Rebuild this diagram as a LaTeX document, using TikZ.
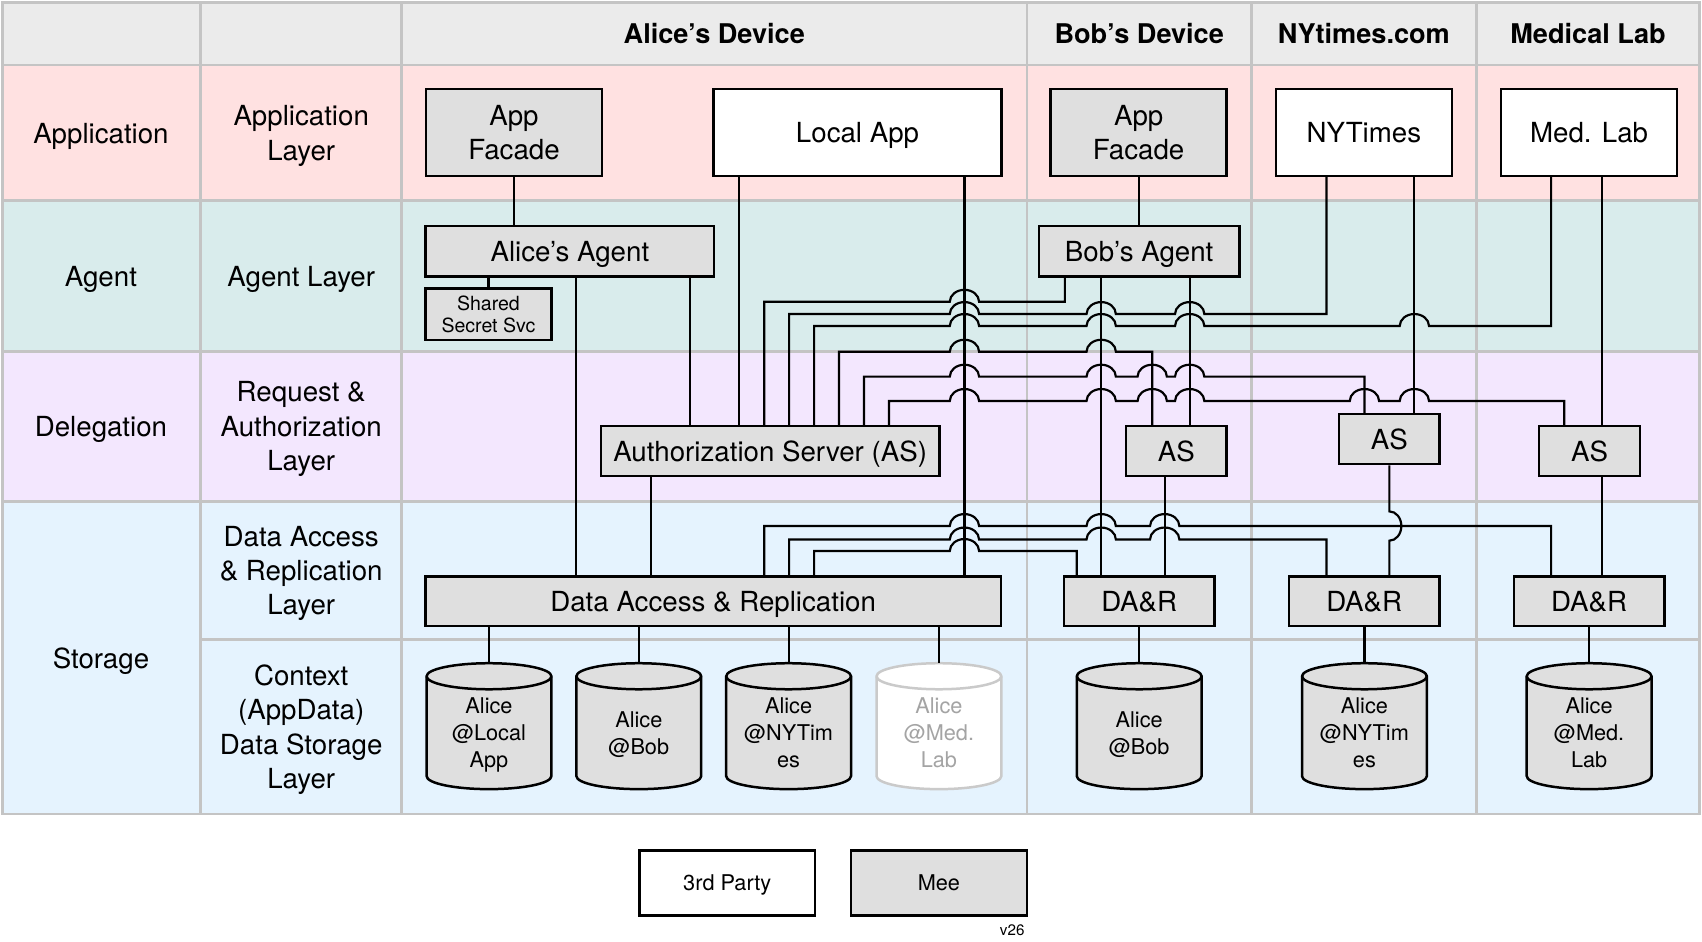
\documentclass[tikz,border=0pt]{standalone}
\usepackage{fontspec}
\setmainfont{TeX Gyre Heros}
\definecolor{hdr}{HTML}{EBEBEB}
\definecolor{rapp}{HTML}{FFE1E1}
\definecolor{ragt}{HTML}{D9ECEC}
\definecolor{rdel}{HTML}{F3E7FE}
\definecolor{rsto}{HTML}{E5F3FE}
\definecolor{gridc}{HTML}{C4C4C4}
\definecolor{boxgray}{HTML}{DFDFDF}
\definecolor{faded}{HTML}{CACACA}
\definecolor{fadedtext}{HTML}{A4A4A4}
\newcommand\hop[2]{-- ({#1-13.5},#2) arc[start angle=180,end angle=0,x radius=13.5pt,y radius=11pt]}
\newcommand\vhop[2]{-- (#1,{#2-13.5}) arc[start angle=90,end angle=-90,x radius=11pt,y radius=13.5pt]}
\newcommand\cylshape[5]{%
  \path[#3] ({#2-57.5},623) -- ({#2-57.5},715) arc[start angle=180,end angle=360,x radius=57.5pt,y radius=12pt] -- ({#2+57.5},623) arc[start angle=0,end angle=180,x radius=57.5pt,y radius=12pt] -- cycle;
  \path[#3,fill=none] ({#2-57.5},623) arc[start angle=180,end angle=360,x radius=57.5pt,y radius=12pt];
  \node[cyltext,#5] (#1) at (#2,675) {#4};
  \coordinate (#1t) at (#2,611);
}
\tikzset{
  box/.style={draw=black, line width=2.3pt, fill=boxgray, align=center, inner sep=0pt, text depth=0pt,
    font=\fontsize{25.5}{31.5}\selectfont},
  wbox/.style={box, fill=white},
  lbl/.style={align=center, inner sep=0pt, text depth=0pt, font=\fontsize{25.5}{31.5}\selectfont},
  hd/.style={inner sep=0pt, font=\fontsize{25}{30}\selectfont\bfseries},
  wire/.style={line width=2pt, line join=miter},
  gridline/.style={draw=gridc, line width=2.5pt},
  cyl/.style={draw=black, line width=2.3pt, fill=boxgray},
  cylf/.style={draw=faded, line width=2.3pt, fill=white},
  cyltext/.style={align=center, inner sep=0pt, text depth=0pt, font=\fontsize{20}{25}\selectfont},
}
\begin{document}
\begin{tikzpicture}[x=1pt,y=-1pt]
\useasboundingbox[fill=white] (0,0) rectangle (1568,867);
% row backgrounds
\fill[hdr] (2,2) rectangle (1566,60);
\fill[rapp] (2,60) rectangle (1566,185);
\fill[ragt] (2,185) rectangle (1566,323.5);
\fill[rdel] (2,323.5) rectangle (1566,462);
\fill[rsto] (2,462) rectangle (1566,750);
% grid
\draw[gridline] (2,2) rectangle (1566,750);
\foreach \yy in {60,185,323.5,462} \draw[gridline] (2,\yy) -- (1566,\yy);
\draw[gridline] (185,589) -- (1566,589);
\foreach \xx in {185,370,946,1153,1360} \draw[gridline] (\xx,2) -- (\xx,750);
% headers
\node[hd] (h1) at (658,31) {Alice’s Device};
\node[hd] (h2) at (1049.5,31) {Bob’s Device};
\node[hd] (h3) at (1256.5,31) {NYtimes.com};
\node[hd] (h4) at (1463,31) {Medical Lab};
% row labels
\node[lbl] (l1) at (93,122.5) {Application};
\node[lbl] (l2) at (93,255) {Agent};
\node[lbl] (l3) at (93,392.5) {Delegation};
\node[lbl] (l4) at (93,606) {Storage};
\node[lbl] (m1) at (277.5,122.5) {Application\\Layer};
\node[lbl] (m2) at (277.5,255) {Agent Layer};
\node[lbl] (m3) at (277.5,392.5) {Request \&\\Authorization\\Layer};
\node[lbl] (m4) at (277.5,525.5) {Data Access\\\& Replication\\Layer};
\node[lbl] (m5) at (277.5,669.5) {Context\\(AppData)\\Data Storage\\Layer};
% application boxes
\node[box, minimum width=162pt, minimum height=80pt] (afa) at (473.5,122) {App\\Facade};
\node[wbox, minimum width=265pt, minimum height=80pt] (lap) at (790,122) {Local App};
\node[box, minimum width=162pt, minimum height=80pt] (afb) at (1049,122) {App\\Facade};
\node[wbox, minimum width=162pt, minimum height=80pt] (nyt) at (1256.5,122) {NYTimes};
\node[wbox, minimum width=162pt, minimum height=80pt] (mdl) at (1464,122) {Med. Lab};
% agents
\node[box, minimum width=266pt, minimum height=46.5pt] (aag) at (525,231.5) {Alice’s Agent};
\node[box, minimum width=116pt, minimum height=47pt, font=\fontsize{18}{21}\selectfont] (sss) at (450,289.5) {Shared\\Secret Svc};
\node[box, minimum width=184.5pt, minimum height=46.5pt] (bag) at (1049.5,231.5) {Bob’s Agent};
% AS
\node[box, minimum width=312pt, minimum height=46pt] (aas) at (709.5,415.5) {Authorization Server (AS)};
\node[box, minimum width=92.5pt, minimum height=46pt] (bas) at (1083.7,415.5) {AS};
\node[box, minimum width=92.7pt, minimum height=46pt] (nas) at (1280,404.5) {AS};
\node[box, minimum width=93pt, minimum height=46pt] (mas) at (1464.5,415.5) {AS};
% DA&R
\node[box, minimum width=530pt, minimum height=45.5pt] (dar) at (657,554) {Data Access \& Replication};
\node[box, minimum width=138.6pt, minimum height=45.5pt] (bdar) at (1049.5,554) {DA\&R};
\node[box, minimum width=139pt, minimum height=45.5pt] (ndar) at (1256.8,554) {DA\&R};
\node[box, minimum width=138.6pt, minimum height=45.5pt] (mdar) at (1464,554) {DA\&R};
% cylinders
\cylshape{c1}{450.5}{cyl}{Alice\\@Local\\App}{}
\cylshape{c2}{588.5}{cyl}{Alice\\@Bob}{}
\cylshape{c3}{726.5}{cyl}{Alice\\@NYTim\\es}{}
\cylshape{c4}{865}{cylf}{Alice\\@Med.\\Lab}{text=fadedtext}
\cylshape{c5}{1049.5}{cyl}{Alice\\@Bob}{}
\cylshape{c6}{1257}{cyl}{Alice\\@NYTim\\es}{}
\cylshape{c7}{1464}{cyl}{Alice\\@Med.\\Lab}{}
% legend
\node[wbox, minimum width=162pt, minimum height=59.5pt, font=\fontsize{20}{24}\selectfont] (leg1) at (670,813.5) {3rd Party};
\node[box, minimum width=162pt, minimum height=59.5pt, font=\fontsize{20}{24}\selectfont] (leg2) at (865,813.5) {Mee};
\node[inner sep=0pt, font=\fontsize{14}{16}\selectfont] (ver) at (932.5,857) {v26};
% simple vertical wires
\draw[wire] (473.5,0 |- afa.south) -- (473.5,0 |- aag.north);
\draw[wire] (sss.north |- aag.south) -- (sss.north);
\draw[wire] (531,0 |- aag.south) -- (531,0 |- dar.north);
\draw[wire] (636,0 |- aag.south) -- (636,0 |- aas.north);
\draw[wire] (681,0 |- lap.south) -- (681,0 |- aas.north);
\draw[wire] (888.5,0 |- lap.south) -- (888.5,0 |- dar.north);
\draw[wire] (600,0 |- aas.south) -- (600,0 |- dar.north);
\draw[wire] (1049.5,0 |- afb.south) -- (1049.5,0 |- bag.north);
\draw[wire] (1014.5,0 |- bag.south) -- (1014.5,0 |- bdar.north);
\draw[wire] (1096,0 |- bag.south) -- (1096,0 |- bas.north);
\draw[wire] (1073,0 |- bas.south) -- (1073,0 |- bdar.north);
\draw[wire] (1303,0 |- nyt.south) -- (1303,0 |- nas.north);
\draw[wire] (1475.5,0 |- mdl.south) -- (1475.5,0 |- mas.north);
\draw[wire] (1475.5,0 |- mas.south) -- (1475.5,0 |- mdar.north);
\draw[wire] (1280,0 |- nas.south) \vhop{1280}{484.6} -- (1280,0 |- ndar.north);
% AS outgoing wires
\draw[wire] (704,0 |- aas.north) -- (704,278) \hop{888.5}{278} -- (981,278) -- (981,0 |- bag.south);
\draw[wire] (727,0 |- aas.north) -- (727,289.3) \hop{888.5}{289.3} \hop{1014.5}{289.3} \hop{1096}{289.3} -- (1222,289.3) -- (1222,0 |- nyt.south);
\draw[wire] (750,0 |- aas.north) -- (750,300.3) \hop{888.5}{300.3} \hop{1014.5}{300.3} \hop{1096}{300.3} \hop{1303}{300.3} -- (1429,300.3) -- (1429,0 |- mdl.south);
\draw[wire] (773,0 |- aas.north) -- (773,324) \hop{888.5}{324} \hop{1014.5}{324} -- (1061.5,324) -- (1061.5,0 |- bas.north);
\draw[wire] (796,0 |- aas.north) -- (796,347) \hop{888.5}{347} \hop{1014.5}{347} \hop{1061.5}{347} \hop{1096}{347} -- (1257,347) -- (1257,0 |- nas.north);
\draw[wire] (819,0 |- aas.north) -- (819,369.4) \hop{888.5}{369.4} \hop{1014.5}{369.4} \hop{1061.5}{369.4} \hop{1096}{369.4} \hop{1257}{369.4} \hop{1303}{369.4} -- (1441,369.4) -- (1441,0 |- mas.north);
% DA&R outgoing wires
\draw[wire] (704,0 |- dar.north) -- (704,484.6) \hop{888.5}{484.6} \hop{1014.5}{484.6} \hop{1073}{484.6} -- (1429,484.6) -- (1429,0 |- mdar.north);
\draw[wire] (727,0 |- dar.north) -- (727,497) \hop{888.5}{497} \hop{1014.5}{497} \hop{1073}{497} -- (1222,497) -- (1222,0 |- ndar.north);
\draw[wire] (750,0 |- dar.north) -- (750,507.6) \hop{888.5}{507.6} -- (992,507.6) -- (992,0 |- bdar.north);
% storage connectors
\draw[wire] (c1t |- dar.south) -- (c1t);
\draw[wire] (c2t |- dar.south) -- (c2t);
\draw[wire] (c3t |- dar.south) -- (c3t);
\draw[wire] (c4t |- dar.south) -- (c4t);
\draw[wire] (c5t |- bdar.south) -- (c5t);
\draw[wire] (c6t |- ndar.south) -- (c6t);
\draw[wire] (c7t |- mdar.south) -- (c7t);
\end{tikzpicture}
\end{document}
